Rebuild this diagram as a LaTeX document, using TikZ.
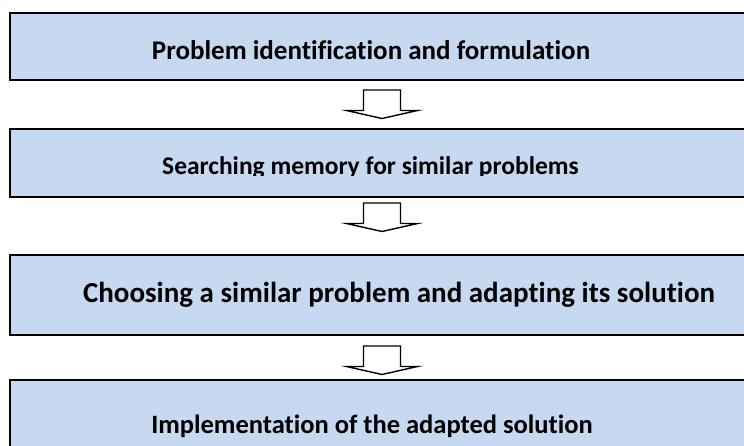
\documentclass[tikz,border=0pt]{standalone}
\usepackage{fontspec}
\setmainfont{Carlito}[Ligatures={NoCommon}]
\definecolor{boxfill}{RGB}{198,217,240}
\begin{document}
\begin{tikzpicture}[x=1pt,y=-1pt,
  stepbox/.style={draw=black, line width=2pt, fill=boxfill, rectangle, inner sep=0pt, anchor=north west, minimum width=760pt},
  steptext/.style={anchor=base, inner sep=0pt, font=\fontsize{#1}{32}\selectfont\bfseries},
  steptext/.default=27,
  blockarrow/.style={draw=black, line width=1.4pt, fill=white, line join=miter},
  pics/downarrow/.style={code={
    \draw[blockarrow] (-18.5,0) -- (18.5,0) -- (18.5,20.5) -- (35.5,20.5) -- (0,28.5)
      -- (-35.5,20.5) -- (-18.5,20.5) -- cycle;}}]
\useasboundingbox (0,0) rectangle (744,445);
\fill[white] (0,0) rectangle (744,445);
\begin{scope}
\clip (0,0) rectangle (744,445);
\node[stepbox, minimum height=67pt] (b1) at (9,12) {};
\node[stepbox, minimum height=68pt] (b2) at (9,128) {};
\node[stepbox, minimum height=80pt] (b3) at (9,254) {};
\node[stepbox, minimum height=90pt] (b4) at (9,379) {};
\end{scope}
\node[steptext=27] (t1) at (371,59) {Problem identification and formulation};
\begin{scope}
\clip (9,128) rectangle (744,175);
\node[steptext=25.5] (t2) at (370.5,174) {Searching memory for similar problems};
\end{scope}
\node[steptext=29] (t3) at (399,302) {Choosing a similar problem and adapting its solution};
\node[steptext=26.5] (t4) at (372,433) {Implementation of the adapted solution};
\coordinate (a1) at (382,90);
\coordinate (a2) at (382,203);
\coordinate (a3) at (382,346);
\pic at (a1) {downarrow};
\pic at (a2) {downarrow};
\pic at (a3) {downarrow};
\end{tikzpicture}
\end{document}
